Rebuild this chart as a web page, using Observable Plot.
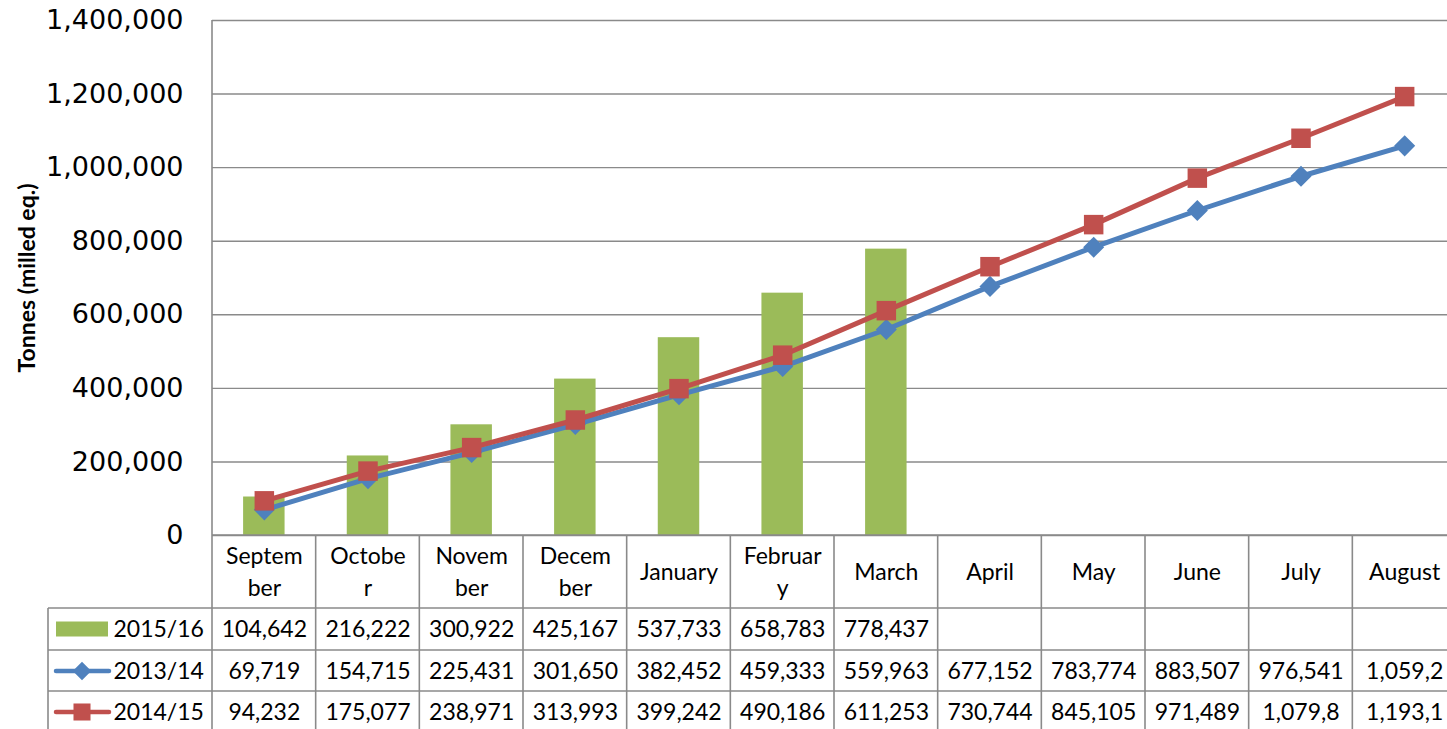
<!DOCTYPE html>
<html>
<head>
<meta charset="utf-8">
<script src="https://cdn.jsdelivr.net/npm/d3@7"></script>
<script src="https://cdn.jsdelivr.net/npm/@observablehq/plot@0.6"></script>
<style>
  html, body { margin: 0; padding: 0; background: #fff; overflow: hidden; }
  #chart { width: 1447px; height: 729px; overflow: hidden; }
  #chart svg { max-width: none !important; }
</style>
</head>
<body>
<div id="chart"></div>
<script>
// ---- data ----
const months = ["September","October","November","December","January","February","March","April","May","June","July","August"];
const headerLabels = ["Septem\nber","Octobe\nr","Novem\nber","Decem\nber","January","Februar\ny","March","April","May","June","July","August"];
const seriesNames = ["2015/16","2013/14","2014/15"];
const values2015 = [104642,216222,300922,425167,537733,658783,778437,null,null,null,null,null];
const values2013 = [69719,154715,225431,301650,382452,459333,559963,677152,783774,883507,976541,1059250];
const values2014 = [94232,175077,238971,313993,399242,490186,611253,730744,845105,971489,1079850,1193150];
const yTicks = [0,200000,400000,600000,800000,1000000,1200000,1400000];
const yTitle = "Tonnes (milled eq.)";

(function () {
// ---- styles ----
const GREEN = "#9BBB59", BLUE = "#4F81BD", RED = "#C0504D", GRID = "#8a8a8a";
const TABLE_FONT = "Lato";
const fmt = d3.format(",");
const cellText = v => v == null ? "" : fmt(v).slice(0, 7);

const rows = (vals) => months.map((m, i) => ({m, v: vals[i]})).filter(d => d.v != null);
const d2015 = rows(values2015), d2013 = rows(values2013), d2014 = rows(values2014);

const rowDy = [94, 136, 177];
const textStyle = {fontSize: 23, fontFamily: TABLE_FONT, fill: "#000", lineAnchor: "middle"};
const tableText = (data, dy) => Plot.text(data, {x: "m", text: d => cellText(d.v), frameAnchor: "bottom", dy, ...textStyle});
const rowLabel = (i) => Plot.text([seriesNames[i]], {frameAnchor: "bottom-left", dx: -99, dy: rowDy[i], textAnchor: "start", ...textStyle});

const plot = Plot.plot({
  width: 1447,
  height: 729,
  marginLeft: 212,
  marginTop: 20,
  marginBottom: 194,
  marginRight: 0,
  style: {background: "#fff", overflow: "hidden"},
  x: {type: "band", domain: months, range: [212, 1456], paddingInner: 0.6, paddingOuter: 0.3, round: false, axis: null},
  y: {domain: [0, 1400000], axis: null},
  marks: [
    Plot.gridY(yTicks, {stroke: GRID, strokeOpacity: 1, strokeWidth: 1.4}),
    Plot.axisY(yTicks, {tickFormat: fmt, tickSize: 0, tickPadding: 29, fontSize: 27, fontFamily: "DejaVu Sans", fill: "#000", label: null}),
    Plot.text([yTitle], {frameAnchor: "left", dx: -185, rotate: -90, textAnchor: "middle", fontWeight: "bold", fontSize: 23, fontFamily: "Lato", fill: "#000"}),
    Plot.barY(d2015, {x: "m", y: "v", fill: GREEN}),
    Plot.line(d2013, {x: "m", y: "v", stroke: BLUE, strokeWidth: 5}),
    Plot.dot(d2013, {x: "m", y: "v", symbol: "diamond2", r: 9.5, fill: BLUE, stroke: null}),
    Plot.line(d2014, {x: "m", y: "v", stroke: RED, strokeWidth: 5}),
    Plot.dot(d2014, {x: "m", y: "v", symbol: "square", r: 11, fill: RED, stroke: null}),
    // data table header
    Plot.text(months, {x: d => d, text: (d, i) => headerLabels[i], frameAnchor: "bottom", dy: 34, ...textStyle, lineHeight: 1.38}),
    // data table rows
    tableText(d2015, rowDy[0]),
    tableText(d2013, rowDy[1]),
    tableText(d2014, rowDy[2]),
    rowLabel(0), rowLabel(1), rowLabel(2)
  ]
});

// ---- data table grid + legend keys, positioned with Plot's own x scale ----
const sx = plot.scale("x");
const half = (sx.step - sx.bandwidth) / 2;
const bounds = months.map(m => sx.apply(m) - half).concat([sx.apply(months[months.length - 1]) + sx.bandwidth + half]);
const plotTop = 20, axisBottom = 535, rowTops = [608, 650, 691], tableBottom = 729, tableLeft = 48;
const g = d3.select(plot).append("g").attr("stroke", GRID).attr("stroke-width", 1.6).attr("fill", "none");
g.append("line").attr("x1", bounds[0]).attr("x2", 1456).attr("y1", axisBottom).attr("y2", axisBottom);
rowTops.forEach(y => g.append("line").attr("x1", tableLeft).attr("x2", 1456).attr("y1", y).attr("y2", y));
g.append("line").attr("x1", bounds[0]).attr("x2", bounds[0]).attr("y1", plotTop).attr("y2", tableBottom);
bounds.slice(1).forEach(x => g.append("line").attr("x1", x).attr("x2", x).attr("y1", axisBottom).attr("y2", tableBottom));
g.append("line").attr("x1", tableLeft).attr("x2", tableLeft).attr("y1", rowTops[0]).attr("y2", tableBottom);

// legend keys
const k = d3.select(plot).append("g");
const keyY = [629, 671, 712];
k.append("rect").attr("x", 56).attr("y", keyY[0] - 7.5).attr("width", 52).attr("height", 15).attr("fill", GREEN);
k.append("line").attr("x1", 56).attr("x2", 109).attr("y1", keyY[1]).attr("y2", keyY[1]).attr("stroke", BLUE).attr("stroke-width", 4.5).attr("stroke-linecap", "round");
k.append("path").attr("d", d3.symbol(d3.symbolDiamond2, 220)()).attr("transform", `translate(82,${keyY[1]})`).attr("fill", BLUE);
k.append("line").attr("x1", 56).attr("x2", 109).attr("y1", keyY[2]).attr("y2", keyY[2]).attr("stroke", RED).attr("stroke-width", 4.5).attr("stroke-linecap", "round");
k.append("path").attr("d", d3.symbol(d3.symbolSquare, 290)()).attr("transform", `translate(82,${keyY[2]})`).attr("fill", RED);

document.getElementById("chart").appendChild(plot);
})();
</script>
</body>
</html>
